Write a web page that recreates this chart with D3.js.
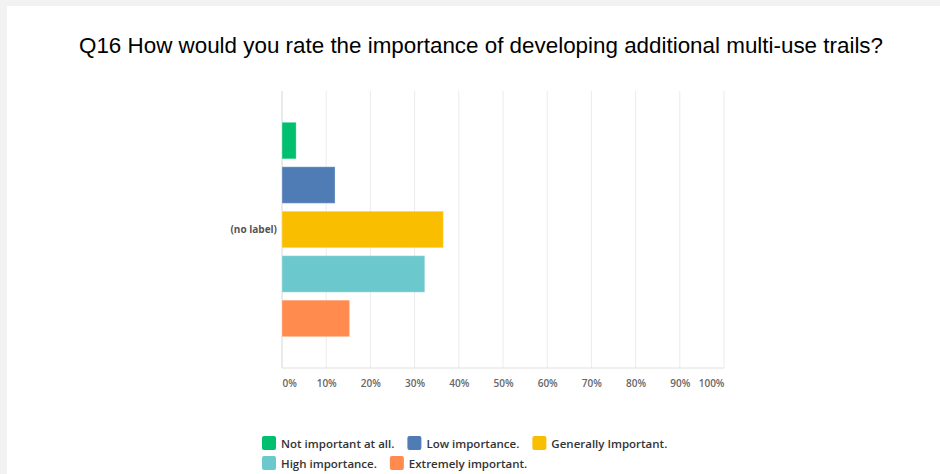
<!DOCTYPE html>
<html>
<head>
<meta charset="utf-8">
<script src="https://cdn.jsdelivr.net/npm/d3@7"></script>
<style>
  body { margin: 0; background: #f2f2f2; }
  svg { display: block; }
</style>
</head>
<body>
<div id="chart"></div>
<script>
// survey answers, one bar per answer, all under one unlabelled row
var categories = ["(no label)"];
var answers = [
  "Not important at all.",
  "Low importance.",
  "Generally Important.",
  "High importance.",
  "Extremely important."
];
var percents = [3.2, 12.0, 36.5, 32.3, 15.3];
var colors = ["#00bf6f", "#507cb6", "#f9be00", "#6bc8cd", "#ff8b4f"];
var tickValues = [0, 10, 20, 30, 40, 50, 60, 70, 80, 90, 100];
var tickLabels = ["0%", "10%", "20%", "30%", "40%", "50%", "60%", "70%", "80%", "90%", "100%"];
var title = "Q16 How would you rate the importance of developing additional multi-use trails?";

var width = 940, height = 474;
var margin = { top: 91, left: 282, right: 216, bottom: 106 };
var plotW = width - margin.left - margin.right;
var plotH = height - margin.top - margin.bottom;
var font = "'Open Sans', sans-serif";

var svg = d3
  .select("#chart")
  .append("svg")
  .attr("width", width)
  .attr("height", height);

// white card on the grey page
svg
  .append("rect")
  .attr("x", 7)
  .attr("y", 6)
  .attr("width", width - 7)
  .attr("height", height - 6)
  .style("fill", "#fff");

svg
  .append("text")
  .attr("x", 481)
  .attr("y", 53)
  .attr("text-anchor", "middle")
  .style("font-family", "'Liberation Sans', Arial, sans-serif")
  .style("font-size", "22.4px")
  .style("fill", "#000")
  .text(title);

var g = svg
  .append("g")
  .attr("transform", "translate(" + margin.left + "," + margin.top + ")");

var x = d3.scaleLinear().domain([0, 100]).range([0, plotW]);
var y0 = d3.scaleBand().domain(categories).range([0, plotH]).paddingOuter(0.146);
var y1 = d3
  .scaleBand()
  .domain(answers)
  .range([0, y0.bandwidth()])
  .paddingInner(0.178);

// grid lines
g.selectAll(".grid")
  .data(tickValues)
  .enter()
  .append("line")
  .attr("class", "grid")
  .attr("x1", (d) => x(d))
  .attr("x2", (d) => x(d))
  .attr("y1", 0)
  .attr("y2", plotH)
  .style("stroke", (d) => (d === 0 ? "#d6d6d6" : "#ebebeb"))
  .style("stroke-width", 1);

g.append("line")
  .attr("x1", 0)
  .attr("x2", plotW)
  .attr("y1", plotH)
  .attr("y2", plotH)
  .style("stroke", "#e0e0e0");

// bars
var rows = g
  .selectAll(".row")
  .data(categories)
  .enter()
  .append("g")
  .attr("class", "row")
  .attr("transform", (d) => "translate(0," + y0(d) + ")");

rows
  .selectAll("rect")
  .data(answers.map((a, i) => ({ answer: a, value: percents[i], color: colors[i] })))
  .enter()
  .append("rect")
  .attr("x", x(0))
  .attr("y", (d) => y1(d.answer))
  .attr("width", (d) => x(d.value) - x(0))
  .attr("height", y1.bandwidth())
  .style("fill", (d) => d.color)
  .style("stroke", "#fff")
  .style("stroke-opacity", 0.3);

// category label
var yAxis = d3.axisLeft(y0).tickSize(0).tickPadding(5);
g.append("g")
  .call(yAxis)
  .call((a) => a.select(".domain").remove())
  .selectAll("text")
  .style("font-family", font)
  .style("font-weight", 700)
  .style("font-size", "10px")
  .style("fill", "#555");

// percent axis
var xAxis = d3
  .axisBottom(x)
  .tickValues(tickValues)
  .tickFormat((d, i) => tickLabels[i])
  .tickSize(0)
  .tickPadding(12);

var xg = g
  .append("g")
  .attr("transform", "translate(0," + plotH + ")")
  .call(xAxis);
xg.select(".domain").remove();
xg.selectAll("text")
  .style("font-family", font)
  .style("font-weight", 600)
  .style("font-size", "10px")
  .style("fill", "#666")
  .attr("text-anchor", (d, i) =>
    i === 0 ? "start" : i === tickValues.length - 1 ? "end" : "middle"
  );

// legend, wraps into rows
var legend = svg.append("g").attr("transform", "translate(262,436)");
var lx = 0, ly = 0, maxW = 420;
answers.forEach(function (a, i) {
  var item = legend.append("g");
  item
    .append("rect")
    .attr("width", 14)
    .attr("height", 14)
    .attr("rx", 2)
    .style("fill", colors[i]);
  var t = item
    .append("text")
    .attr("x", 19)
    .attr("y", 11.5)
    .style("font-family", font)
    .style("font-weight", 600)
    .style("font-size", "11.5px")
    .style("fill", "#333")
    .text(a);
  var w = 19 + t.node().getComputedTextLength() + 13;
  if (lx > 0 && lx + w - 13 > maxW) {
    lx = 0;
    ly += 20;
  }
  item.attr("transform", "translate(" + lx + "," + ly + ")");
  lx += w;
});
</script>
</body>
</html>
